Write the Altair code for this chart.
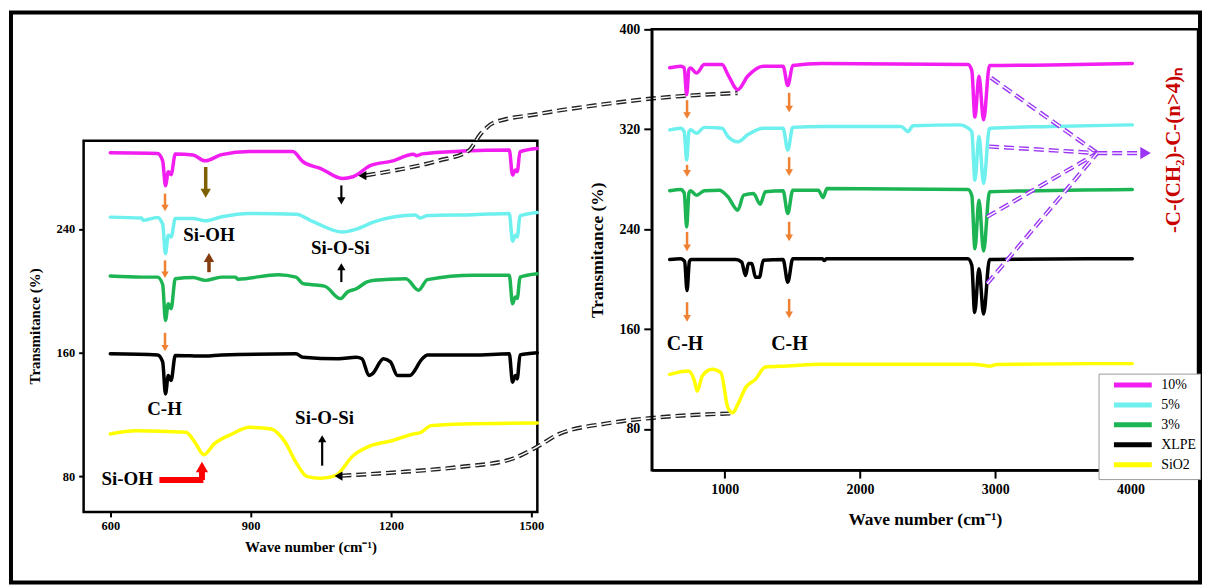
import altair as alt
import pandas as pd

FONT = "Liberation Serif"
SERIES = ["10%", "5%", "3%", "XLPE", "SiO2"]
COLORS = ["#F21DF0", "#6EF0EE", "#1DB553", "#000000", "#FFFF00"]

# ---------------- left panel (zoomed 600-1500) ----------------
L10_W = [600, 701, 712, 718, 724, 730, 739, 777, 803, 838, 898, 990, 1012, 1050, 1096, 1119, 1157, 1202, 1248, 1255, 1267, 1354, 1453, 1460, 1466, 1470, 1476, 1513]
L10_T = [289.2, 288.8, 284, 267.9, 277, 275, 288.4, 287.7, 284, 288, 290, 290, 283.4, 279, 272.6, 273.7, 281, 283.8, 288.2, 287.3, 288.5, 290.3, 291, 274.8, 278, 277, 289.9, 292]
L5_W = [600, 667, 670, 701, 712, 718, 724, 730, 739, 777, 803, 838, 898, 997, 1035, 1096, 1126, 1164, 1252, 1263, 1278, 1377, 1453, 1460, 1466, 1470, 1476, 1513]
L5_T = [247.6, 247, 245.5, 247.4, 243, 224, 235.9, 234.8, 246.7, 246.7, 245.2, 247.8, 250, 249.5, 244.5, 238, 239.8, 244.5, 248.9, 247, 248.6, 249.2, 250, 232, 235.9, 234.8, 248.4, 250.6]
L3_W = [600, 667, 701, 712, 718, 724, 730, 739, 777, 803, 838, 868, 872, 959, 997, 1012, 1027, 1058, 1092, 1107, 1126, 1149, 1164, 1232, 1259, 1278, 1377, 1453, 1460, 1466, 1470, 1476, 1513]
L3_T = [209.5, 208.8, 208.8, 204, 180.8, 191.6, 188.4, 207.8, 208.6, 206.7, 208.8, 208.8, 207.5, 210.4, 208.8, 204.6, 204, 203, 194.9, 199.2, 201.3, 205.7, 206.8, 207.8, 200.3, 207.2, 210, 210, 191.6, 196, 195, 208.8, 211]
LX_W = [600, 701, 712, 718, 724, 730, 739, 803, 838, 997, 1012, 1088, 1126, 1138, 1153, 1161, 1184, 1199, 1214, 1240, 1267, 1278, 1377, 1453, 1460, 1466, 1470, 1476, 1513]
LX_T = [159.2, 158.5, 154, 133.3, 145.2, 142, 158.2, 157.8, 158.5, 159.2, 157, 156, 157, 156, 145.2, 146.5, 156, 154, 145.2, 145.2, 156, 158.5, 158.5, 159.2, 140.9, 145.2, 143, 158.5, 159.9]
LS_W = [600, 655, 762, 781, 800, 822, 860, 898, 944, 974, 997, 1020, 1050, 1081, 1119, 1157, 1202, 1248, 1263, 1286, 1354, 1513]
LS_T = [107.4, 109.5, 108.5, 102, 94, 101, 107.4, 111.7, 110.6, 102, 89, 80, 78.7, 80.4, 93.3, 99.8, 103, 107.4, 108.3, 112.8, 113.9, 114.5]

# ---------------- right panel (full range) ----------------
R10_W = [593, 674, 700, 718, 735, 747, 791, 849, 980, 1023, 1096, 1169, 1285, 1431, 1466, 1503, 1722, 2798, 2827, 2850, 2880, 2914, 2958, 3409, 4014]
R10_T = [369.2, 370.5, 369, 347.7, 368, 369, 365, 371.8, 371.8, 363.8, 351.7, 362.4, 370.5, 370.5, 355, 371, 372.6, 371.8, 367, 329.7, 362.4, 327.6, 371, 371.5, 372.6]
R5_W = [593, 674, 700, 718, 735, 747, 791, 849, 980, 1023, 1096, 1169, 1285, 1431, 1466, 1503, 1722, 2303, 2356, 2391, 2740, 2798, 2827, 2850, 2880, 2914, 2958, 3409, 4014]
R5_T = [319.5, 320.8, 318, 295.4, 318, 319.5, 316.8, 321.5, 320.8, 314.2, 310, 315.5, 320.8, 320.8, 303.4, 321.5, 322.2, 322.2, 318.2, 322.8, 323.5, 321, 318, 279.3, 314.2, 276.6, 320.8, 322.2, 323.5]
R3_W = [593, 674, 700, 718, 735, 747, 791, 849, 960, 1023, 1096, 1140, 1212, 1262, 1300, 1431, 1466, 1503, 1692, 1727, 1756, 2798, 2827, 2850, 2880, 2914, 2958, 4014]
R3_T = [270.7, 271.8, 269, 241.7, 269, 270.7, 267.2, 270.7, 271.2, 265.9, 255.2, 267.2, 268.5, 260, 269.9, 270.7, 252.5, 271.2, 271.2, 265.3, 272.6, 271.8, 267, 224.3, 263.2, 222.4, 269.9, 271.8]
RX_W = [593, 674, 703, 721, 738, 750, 1081, 1125, 1154, 1175, 1200, 1227, 1256, 1285, 1431, 1466, 1503, 1722, 1736, 1750, 2798, 2827, 2848, 2880, 2914, 2958, 4014]
RX_T = [215.7, 216.3, 214, 190.8, 214, 215.7, 215.7, 213.6, 202.8, 212.4, 212.4, 201.5, 201.5, 215, 215.7, 197.5, 216.3, 216.3, 214.8, 216.3, 216.3, 211, 173.3, 208.2, 172, 215.7, 216.3]
RS_W = [593, 732, 776, 796, 834, 907, 971, 1023, 1058, 1096, 1154, 1227, 1300, 1460, 1722, 2827, 2900, 2958, 3010, 3700, 4014]
RS_T = [123.7, 126.4, 118.3, 110.3, 122.4, 127.7, 125, 96.9, 92.9, 99.6, 113, 119.7, 129.6, 130.4, 131.8, 131.8, 131.2, 130.3, 131.6, 132.3, 132.3]

# ---------------- annotations ----------------
L_TEXT = ["Si-OH", "Si-O-Si", "C-H", "Si-O-Si", "Si-OH"]
L_TEXT_W = [811, 1092, 716, 1058, 636]
L_TEXT_T = [235.8, 227.6, 123.5, 117.5, 78.2]
R_TEXT = ["C-H", "C-H"]
R_TEXT_W = [706, 1478]
R_TEXT_T = [148, 148]
CHAIN_TEXT = "-C-(CH\u2082)-C-(n>4)\u2099"
CHAIN_W = [4320]
CHAIN_T = [303]

# orange C-H arrows (down)
OR_L_W = [717, 717, 717]
OR_L_TAIL = [262.8, 219.6, 172.8]
OR_L_TIP = [250.9, 207.7, 160.3]
OR_R_W = [721, 721, 721, 721, 1476, 1476, 1476, 1476]
OR_R_TAIL = [343.3, 291.5, 237.8, 181.5, 349.2, 297.6, 245.9, 184.1]
OR_R_TIP = [327.8, 281.5, 221.8, 165.4, 333.0, 282.0, 229.8, 168.1]
# Si-OH arrows
OLIVE_W, OLIVE_TAIL, OLIVE_TIP = [804], [280], [259.5]
BROWN_W, BROWN_TAIL, BROWN_TIP = [811], [212], [225]
# Si-O-Si arrows (black)
BK_DN_W, BK_DN_TAIL, BK_DN_TIP = [1094], [268.1], [255.1]
BK_UP_W, BK_UP_TAIL, BK_UP_TIP = [1094, 1053], [205.6, 86.9], [218.5, 107.3]
# red bent arrow
RED_H_W, RED_H_W2, RED_H_T = [705], [799], [77.6]
RED_V_W, RED_V_TAIL, RED_V_TIP = [796], [77.6], [90]

# dashed connectors (left-panel coordinates, extending into the right panel)
CONN1_W = [1146, 1217, 1302, 1366, 1392, 1419, 1515, 1643, 1770, 1941]
CONN1_T = [274.6, 278.3, 284.1, 290.5, 301.5, 308.5, 314.3, 320.1, 324.6, 327.8]
CONN2_W = [1094, 1217, 1345, 1451, 1515, 1558, 1664, 1770, 1934]
CONN2_T = [80.4, 82.7, 86, 90.5, 99.5, 107.2, 114.3, 118.1, 120.7]
CONN_HEAD_W = [1139, 1088]
CONN_HEAD_T = [274.4, 80.2]

# purple connectors (right panel)
PUR_W = [2969, 2955, 2940, 2940]
PUR_T = [361.2, 306.2, 249.9, 196.3]
PUR_HUB_W, PUR_HUB_T = 3755, 300.9
PUR_END_W = 4085
PUR_HEAD_W = 4112


def spectra(pairs):
    rows = []
    for name, ws, ts in pairs:
        for w, t in zip(ws, ts):
            rows.append({"series": name, "w": w, "v": t})
    return pd.DataFrame(rows)


left_df = spectra([("10%", L10_W, L10_T), ("5%", L5_W, L5_T), ("3%", L3_W, L3_T),
                   ("XLPE", LX_W, LX_T), ("SiO2", LS_W, LS_T)])
right_df = spectra([("10%", R10_W, R10_T), ("5%", R5_W, R5_T), ("3%", R3_W, R3_T),
                    ("XLPE", RX_W, RX_T), ("SiO2", RS_W, RS_T)])

XL = alt.Scale(domain=[543, 1513], nice=False, zero=False)
YL = alt.Scale(domain=[57, 369], nice=False, zero=False)
XR = alt.Scale(domain=[460, 4500], nice=False, zero=False)
YR = alt.Scale(domain=[47, 400], nice=False, zero=False)


def axis(values, title, lsize, tsize, tick, **kw):
    return alt.Axis(values=values, title=title, grid=False, format="d", labelFont=FONT, labelFontSize=lsize,
                    labelFontWeight="bold", labelColor="black", titleFont=FONT, titleFontSize=tsize,
                    titleFontWeight="bold", titleColor="black", tickColor="black", tickWidth=2,
                    tickSize=tick, domainColor="black", domainWidth=2.5, **kw)


AXL_X = axis([600, 900, 1200, 1500], "Wave number (cm\u207b\u00b9)", 12.5, 15, 5, domain=False,
             labelPadding=3, titlePadding=7)
AXL_Y = axis([80, 160, 240], "Transmitance (%)", 12.5, 15, 5, domain=False, labelPadding=4,
             titlePadding=14, titleY=298)
AXR_X = axis([1000, 2000, 3000, 4000], "Wave number (cm\u207b\u00b9)", 14, 17.5, 8, labelPadding=4,
             titlePadding=15)
AXR_Y = axis([80, 160, 240, 320, 400], "Transmitance (%)", 14, 17.5, 8, labelPadding=4,
             titlePadding=13)

XLE = alt.X("w:Q", scale=XL, axis=AXL_X)
YLE = alt.Y("v:Q", scale=YL, axis=AXL_Y)
XRE = alt.X("w:Q", scale=XR, axis=AXR_X)
YRE = alt.Y("v:Q", scale=YR, axis=AXR_Y)


def varrows(ws, tails, tips, color, width, size, off, xe, ye):
    s_rows, h_rows = [], []
    up = tips[0] > tails[0]
    for w, a, b in zip(ws, tails, tips):
        d = 1 if b > a else -1
        hc = b - d * off
        s_rows.append({"w": w, "v": a, "v2": hc})
        h_rows.append({"w": w, "v": hc})
    shaft = alt.Chart(pd.DataFrame(s_rows)).mark_rule(color=color, strokeWidth=width).encode(
        x=xe, y=ye, y2="v2:Q")
    head = alt.Chart(pd.DataFrame(h_rows)).mark_point(
        shape="triangle-up" if up else "triangle-down", filled=True, size=size, color=color,
        opacity=1, strokeWidth=0).encode(x=xe, y=ye)
    return [shaft, head]


def double_dash(ws, ts, color, xe, ye, outer=4.2, inner=1.4, dash=(10, 5)):
    df = pd.DataFrame({"w": ws, "v": ts, "k": list(range(len(ws)))})
    base = alt.Chart(df)
    a = base.mark_line(color=color, strokeWidth=outer, strokeDash=list(dash), interpolate="monotone").encode(
        x=xe, y=ye, order="k:Q")
    b = base.mark_line(color="white", strokeWidth=inner, strokeDash=list(dash), interpolate="monotone").encode(
        x=xe, y=ye, order="k:Q")
    return [a, b]


# ---------------- left panel layers ----------------
one = pd.DataFrame({"a": [0]})
border = alt.Chart(one).mark_rect(fillOpacity=0, stroke="black", strokeWidth=4).encode(
    x=alt.value(-73), x2=alt.value(1122), y=alt.value(-17), y2=alt.value(556))
frame_df = pd.DataFrame({"w": [543], "w2": [1513], "v": [57], "v2": [297]})
frame = alt.Chart(frame_df).mark_rect(fillOpacity=0, stroke="black", strokeWidth=2.5).encode(
    x=XLE, x2="w2:Q", y=YLE, y2="v2:Q")

left_lines = alt.Chart(left_df).mark_line(strokeWidth=3.5, interpolate="monotone", strokeCap="round",
                                          strokeJoin="round").encode(
    x=XLE, y=YLE,
    color=alt.Color("series:N", scale=alt.Scale(domain=SERIES, range=COLORS), legend=None),
    detail="series:N")

left_text = alt.Chart(pd.DataFrame({"w": L_TEXT_W, "v": L_TEXT_T, "t": L_TEXT})).mark_text(
    font=FONT, fontSize=19, fontWeight="bold", color="black").encode(x=XLE, y=YLE, text="t:N")

red_h = alt.Chart(pd.DataFrame({"w": RED_H_W, "w2": RED_H_W2, "v": RED_H_T})).mark_rule(
    color="#FF0000", strokeWidth=6).encode(x=XLE, x2="w2:Q", y=YLE)

conn_heads = alt.Chart(pd.DataFrame({"w": CONN_HEAD_W, "v": CONN_HEAD_T})).mark_point(
    shape="triangle-left", filled=True, size=85, color="black", opacity=1, strokeWidth=0).encode(x=XLE, y=YLE)

left_layers = [border, frame, left_lines]
left_layers += double_dash(CONN1_W, CONN1_T, "#222222", XLE, YLE)
left_layers += double_dash(CONN2_W, CONN2_T, "#222222", XLE, YLE)
left_layers += [conn_heads]
left_layers += varrows(OR_L_W, OR_L_TAIL, OR_L_TIP, "#F08032", 2.5, 55, 2.6, XLE, YLE)
left_layers += varrows(OLIVE_W, OLIVE_TAIL, OLIVE_TIP, "#7F6000", 3.5, 110, 3.5, XLE, YLE)
left_layers += varrows(BROWN_W, BROWN_TAIL, BROWN_TIP, "#843C0C", 3.5, 110, 3.5, XLE, YLE)
left_layers += varrows(BK_DN_W, BK_DN_TAIL, BK_DN_TIP, "black", 2.2, 70, 3.0, XLE, YLE)
left_layers += varrows(BK_UP_W, BK_UP_TAIL, BK_UP_TIP, "black", 2.2, 70, 3.0, XLE, YLE)
left_layers += [red_h]
left_layers += varrows(RED_V_W, RED_V_TAIL, RED_V_TIP, "#FF0000", 6, 150, 4.0, XLE, YLE)
left_layers += [left_text]

left = alt.layer(*left_layers).properties(
    width=456, height=485, view=alt.ViewBackground(stroke="transparent"))

# ---------------- right panel layers ----------------
right_lines = alt.Chart(right_df).mark_line(strokeWidth=3.5, interpolate="monotone", strokeCap="round",
                                            strokeJoin="round").encode(
    x=XRE, y=YRE,
    color=alt.Color("series:N", scale=alt.Scale(domain=SERIES, range=COLORS), sort=SERIES,
                    legend=alt.Legend(title=None, orient="none", legendX=449, legendY=346,
                                      symbolType="M-1,0H6.6", symbolStrokeWidth=5, symbolSize=100,
                                      symbolOffset=9, labelOffset=35,
                                      labelFont=FONT, labelFontSize=14, labelColor="black",
                                      strokeColor="#9a9a9a", fillColor="white", padding=4,
                                      rowPadding=-1)),
    detail="series:N")

right_text = alt.Chart(pd.DataFrame({"w": R_TEXT_W, "v": R_TEXT_T, "t": R_TEXT})).mark_text(
    font=FONT, fontSize=20, fontWeight="bold", color="black").encode(x=XRE, y=YRE, text="t:N")

chain = alt.Chart(pd.DataFrame({"w": CHAIN_W, "v": CHAIN_T, "t": [CHAIN_TEXT]})).mark_text(
    font=FONT, fontSize=21, fontWeight="bold", color="#C80000", angle=270).encode(
    x=XRE, y=YRE, text="t:N")

right_layers = [right_lines]
for w0, t0 in zip(PUR_W, PUR_T):
    right_layers += double_dash([w0, PUR_HUB_W], [t0, PUR_HUB_T], "#9B35F5", XRE, YRE, outer=4.2, inner=1.4)
right_layers += double_dash([PUR_HUB_W, PUR_END_W], [PUR_HUB_T, PUR_HUB_T], "#9B35F5", XRE, YRE)
right_layers += [alt.Chart(pd.DataFrame({"w": [PUR_HEAD_W], "v": [PUR_HUB_T]})).mark_point(
    shape="triangle-right", filled=True, size=150, color="#9B35F5", opacity=1, strokeWidth=0).encode(x=XRE, y=YRE)]
right_layers += varrows(OR_R_W, OR_R_TAIL, OR_R_TIP, "#F08032", 2.5, 60, 3.2, XRE, YRE)
right_layers += [right_text, chain]

right = alt.layer(*right_layers).properties(
    width=549, height=443, view=alt.ViewBackground(stroke="black", strokeWidth=2.5))

chart = alt.hconcat(left, right, spacing=115, bounds="flush").resolve_scale(
    x="independent", y="independent", color="independent").resolve_legend(color="independent").properties(
    padding=0, background="white")

chart.save("out.html", embed_options={"renderer": "svg", "actions": False})
